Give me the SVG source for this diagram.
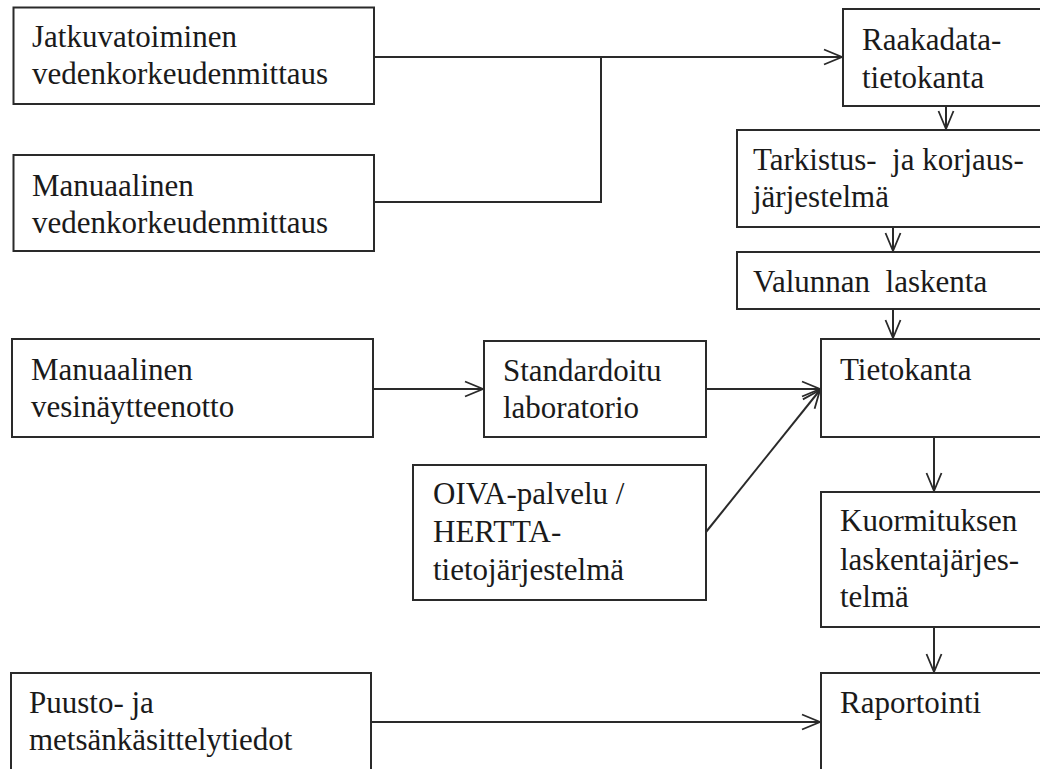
<svg xmlns="http://www.w3.org/2000/svg" width="1040" height="769" viewBox="0 0 1040 769">
<defs>
<style>
.box{fill:#fff;stroke:#2a2a2a;stroke-width:2}
.t{font-family:"Liberation Serif","Times New Roman",serif;font-size:31px;fill:#1a1a1a}
.pre{white-space:pre}
.c{fill:none;stroke:#2a2a2a;stroke-width:2}
.a{marker-end:url(#arr)}
</style>
<marker id="arr" markerUnits="userSpaceOnUse" markerWidth="22" markerHeight="20" refX="19" refY="9" orient="auto">
<path d="M1,1.5 L19,9 L1,16.5" fill="none" stroke="#2a2a2a" stroke-width="1.8"/>
</marker>
</defs>
<rect width="1040" height="769" fill="#fff"/>
<g id="connectors">
<path class="c a" d="M374,57 L842,57"/>
<path class="c" d="M374,202 L601,202 L601,57"/>
<path class="c a" d="M946,106 L946,129"/>
<path class="c a" d="M893,227 L893,251"/>
<path class="c a" d="M893,309 L893,338"/>
<path class="c a" d="M373,389 L483,389"/>
<path class="c a" d="M706,389 L820,389"/>
<path class="c a" d="M706,532 L820,390"/>
<path class="c a" d="M934,437 L934,491"/>
<path class="c a" d="M934,627 L934,672"/>
<path class="c a" d="M371,722 L820,722"/>
</g>
<g id="n1"><rect class="box" x="13.5" y="7.5" width="360.5" height="96.5"/>
<text class="t" x="32" y="47">Jatkuvatoiminen</text><text class="t" x="32" y="84">vedenkorkeudenmittaus</text></g>
<g id="n2"><rect class="box" x="13.5" y="155" width="360.5" height="96"/>
<text class="t" x="32" y="196">Manuaalinen</text><text class="t" x="32" y="233">vedenkorkeudenmittaus</text></g>
<g id="n3"><rect class="box" x="843" y="9" width="202" height="97"/>
<text class="t" x="862" y="50">Raakadata-</text><text class="t" x="862" y="88">tietokanta</text></g>
<g id="n4"><rect class="box" x="737" y="130" width="308" height="97"/>
<text class="t pre" x="753" y="170">Tarkistus-  ja korjaus-</text><text class="t" x="753" y="207">järjestelmä</text></g>
<g id="n5"><rect class="box" x="737" y="252" width="308" height="57"/>
<text class="t pre" x="753" y="292">Valunnan  laskenta</text></g>
<g id="n6"><rect class="box" x="12" y="339" width="361" height="98"/>
<text class="t" x="31" y="380">Manuaalinen</text><text class="t" x="31" y="417">vesinäytteenotto</text></g>
<g id="n7"><rect class="box" x="484" y="341" width="222" height="96"/>
<text class="t" x="503" y="381">Standardoitu</text><text class="t" x="503" y="418">laboratorio</text></g>
<g id="n8"><rect class="box" x="413" y="465" width="293" height="135"/>
<text class="t" x="433" y="504">OIVA-palvelu /</text><text class="t" x="433" y="542">HERTTA-</text><text class="t" x="433" y="580">tietojärjestelmä</text></g>
<g id="n9"><rect class="box" x="821" y="339" width="224" height="98"/>
<text class="t" x="840" y="380">Tietokanta</text></g>
<g id="n10"><rect class="box" x="821" y="492" width="224" height="135"/>
<text class="t" x="840" y="531">Kuormituksen</text><text class="t" x="840" y="570">laskentajärjes-</text><text class="t" x="840" y="607">telmä</text></g>
<g id="n11"><rect class="box" x="821" y="673" width="224" height="110"/>
<text class="t" x="840" y="713">Raportointi</text></g>
<g id="n12"><rect class="box" x="11" y="673" width="360" height="110"/>
<text class="t" x="29" y="713">Puusto- ja</text><text class="t" x="29" y="750">metsänkäsittelytiedot</text></g>
</svg>
